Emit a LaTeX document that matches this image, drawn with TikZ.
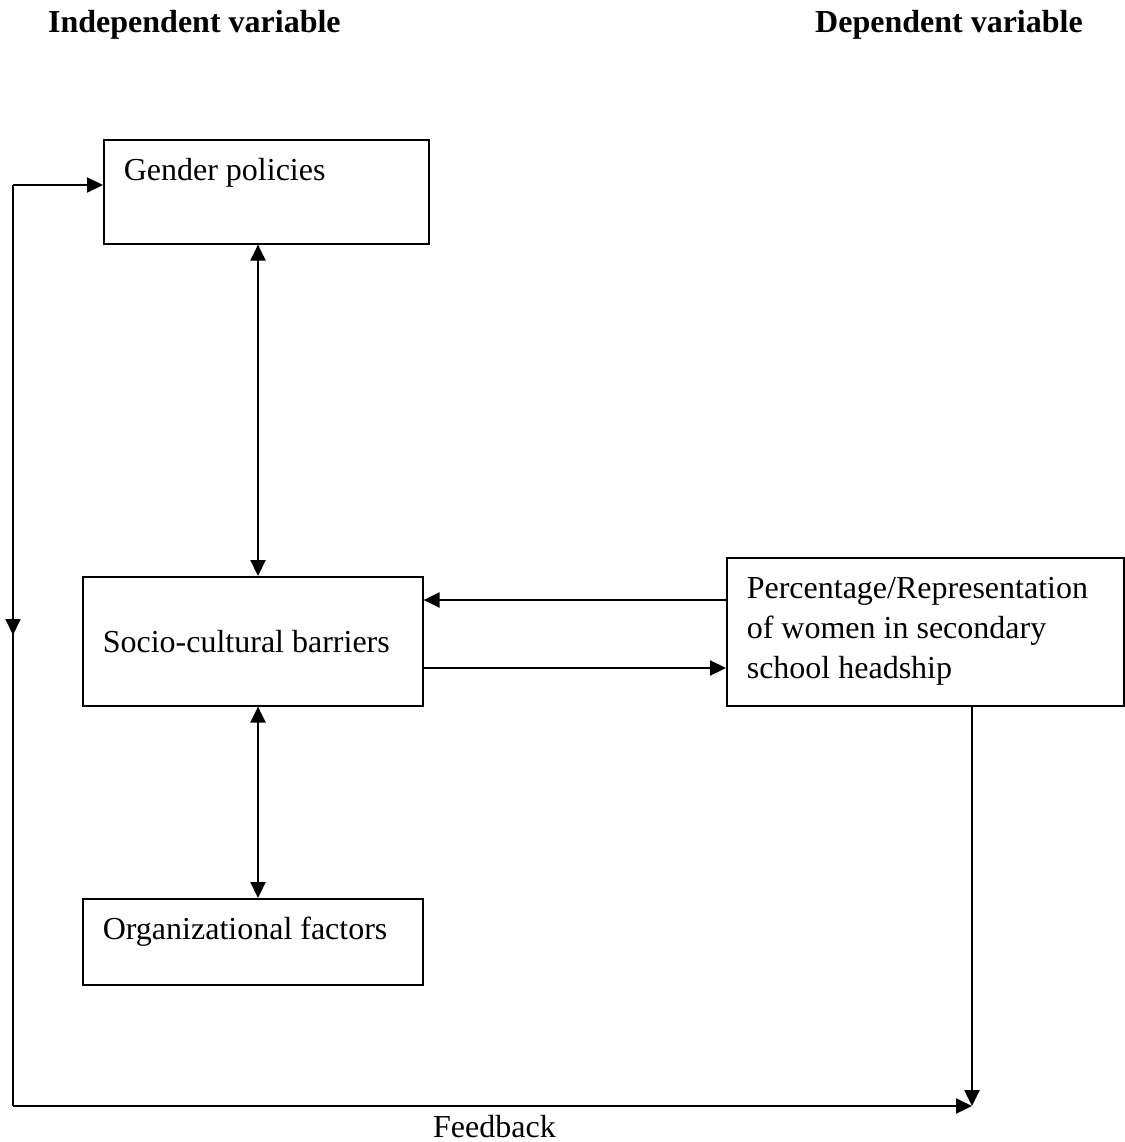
\documentclass[tikz,border=0pt]{standalone}
\usepackage{fontspec}
\setmainfont{Liberation Serif}
\usetikzlibrary{arrows.meta}

\tikzset{
  box/.style={draw, line width=1.6pt, inner xsep=20pt, inner ysep=0pt, align=flush left, anchor=north west},
  title/.style={font=\fontsize{32}{40}\selectfont\bfseries, inner sep=0pt, anchor=base west},
  arr/.style={line width=2.2pt, -{Triangle[length=16pt,width=15pt]}},
  dbl/.style={line width=2.2pt, {Triangle[length=16pt,width=15pt]}-{Triangle[length=16pt,width=15pt]}},
  feed/.style={line width=1.8pt}
}

\begin{document}
\begin{tikzpicture}[x=1pt,y=-1pt,font=\fontsize{32}{40}\selectfont]
\useasboundingbox (0,0) rectangle (1124,1142);
\node [title] (indep) at (48,33) {Independent variable};
\node [title] (dep) at (815,33) {Dependent variable};
\node [box, text width=285pt, minimum height=104pt, text depth=44pt] (gender) at (103,139) {Gender policies};
\node [box, text width=300pt, minimum height=129pt] (socio) at (82,576) {Socio-cultural barriers};
\node [box, text width=300pt, minimum height=86pt, text depth=28pt] (org) at (82,898) {Organizational factors};
\node [box, text width=357pt, minimum height=148pt] (perc) at (726,557) {Percentage/Representation\\of women in secondary\\school headship};
\node [inner sep=0pt, anchor=base west] (feedback) at (433,1137) {Feedback};
\coordinate (axis) at (258,0);
\coordinate (fbtop) at (13,185);
\coordinate (fbmid) at (13,635);
\coordinate (fbcorner) at (13,1106);
\coordinate (fbend) at (972,1106);
\draw [dbl] (gender.south -| axis) -- (socio.north -| axis);
\draw [dbl] (socio.south -| axis) -- (org.north -| axis);
\draw [arr] (perc.west |- 0,600) -- (socio.east |- 0,600);
\draw [arr] (socio.east |- 0,668) -- (perc.west |- 0,668);
\draw [arr] (fbtop) -- (fbtop -| gender.west);
\draw [feed] (fbtop) -- (fbcorner);
\draw [feed, -{Triangle[length=16pt,width=15pt]}] (fbtop) -- (fbmid);
\draw [arr] (fbcorner) -- (fbend);
\draw [arr, line width=2.6pt] (perc.south -| fbend) -- (fbend);
\end{tikzpicture}
\end{document}
